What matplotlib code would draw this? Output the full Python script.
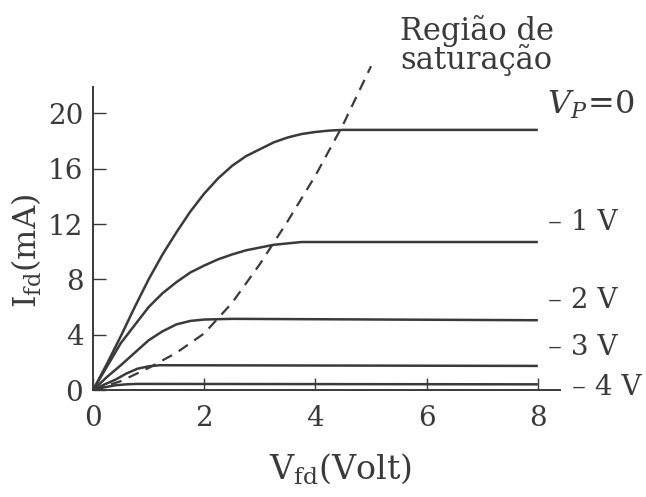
import matplotlib
matplotlib.use('Agg')
import matplotlib.pyplot as plt

# JFET output characteristics: drain current vs drain voltage per gate voltage
INK = '#3a3a3a'

vp0_v = [0, 0.25, 0.5, 0.75, 1.0, 1.25, 1.5, 1.75, 2.0, 2.25, 2.5, 2.75,
         3.0, 3.25, 3.5, 3.75, 4.0, 4.25, 4.5, 8.0]
vp0_i = [0, 1.9, 3.9, 6.0, 8.0, 9.8, 11.4, 12.9, 14.2, 15.3, 16.2, 16.9,
         17.4, 17.9, 18.25, 18.5, 18.65, 18.75, 18.8, 18.8]

vm1_v = [0, 0.25, 0.5, 0.75, 1.0, 1.25, 1.5, 1.75, 2.0, 2.25, 2.5, 2.75,
         3.0, 3.25, 3.5, 3.75, 4.0, 8.0]
vm1_i = [0, 1.7, 3.4, 4.7, 6.0, 7.0, 7.8, 8.5, 9.0, 9.45, 9.8, 10.1,
         10.3, 10.5, 10.6, 10.7, 10.7, 10.7]

vm2_v = [0, 0.25, 0.5, 0.75, 1.0, 1.25, 1.5, 1.75, 2.0, 2.5, 8.0]
vm2_i = [0, 0.95, 1.8, 2.7, 3.6, 4.25, 4.75, 5.0, 5.1, 5.15, 5.05]

vm3_v = [0, 0.2, 0.4, 0.6, 0.8, 1.0, 1.2, 8.0]
vm3_i = [0, 0.4, 0.75, 1.2, 1.55, 1.72, 1.8, 1.75]

vm4_v = [0, 0.2, 0.4, 0.6, 0.8, 8.0]
vm4_i = [0, 0.2, 0.35, 0.42, 0.45, 0.42]

# boundary of the saturation region
sat_v = [0, 0.5, 1.0, 1.5, 2.0, 2.5, 3.0, 3.5, 4.0, 4.5, 5.0]
sat_i = [0, 0.65, 1.6, 2.7, 4.1, 6.3, 9.1, 12.2, 15.5, 19.2, 23.4]

curve_labels = [r'$V_P\!=\!0$', '– 1 V', '– 2 V', '– 3 V', '– 4 V']
label_pos = [(8.17, 20.6), (8.18, 12.1), (8.18, 6.5), (8.18, 3.1), (8.62, 0.2)]
label_size = [23, 20, 20, 20, 20]

x_ticks = [0, 2, 4, 6, 8]
y_ticks = [0, 4, 8, 12, 16, 20]

plt.rcParams['font.family'] = 'DejaVu Serif'
plt.rcParams['mathtext.fontset'] = 'dejavuserif'

fig = plt.figure(figsize=(6.46, 4.97), dpi=100)
ax = fig.add_axes([0.144, 0.215, 0.723, 0.610])

for v, i in [(vp0_v, vp0_i), (vm1_v, vm1_i), (vm2_v, vm2_i),
             (vm3_v, vm3_i), (vm4_v, vm4_i)]:
    ax.plot(v, i, color=INK, lw=1.8, solid_capstyle='butt',
            solid_joinstyle='round')
ax.plot(sat_v, sat_i, color=INK, lw=1.6, dashes=(5, 3.5), clip_on=False)

ax.set_xlim(0, 8.4)
ax.set_ylim(0, 21.9)
ax.set_xticks(x_ticks)
ax.set_yticks(y_ticks)
for side in ['top', 'right']:
    ax.spines[side].set_visible(False)
for side in ['left', 'bottom']:
    ax.spines[side].set_color(INK)
    ax.spines[side].set_linewidth(1.4)
ax.tick_params(direction='in', length=9, width=1.0, color=INK,
               labelsize=20, labelcolor=INK)
ax.tick_params(axis='x', pad=11)
ax.tick_params(axis='y', pad=7)

ax.set_xlabel(r'V$_{\rm fd}$(Volt)', fontsize=24, color=INK)
ax.xaxis.set_label_coords(0.53, -0.2)
ax.set_ylabel(r'I$_{\rm fd}$(mA)', fontsize=23, color=INK)
ax.yaxis.set_label_coords(-0.105, 0.46)

for text, (x, y), size in zip(curve_labels, label_pos, label_size):
    ax.text(x, y, text, fontsize=size, color=INK, va='center', ha='left',
            clip_on=False)

ax.text(6.9, 24.9, 'Região de\nsaturação', fontsize=22, color=INK,
        ha='center', va='center', linespacing=0.9, clip_on=False)

fig.savefig('out.png', dpi=100, facecolor='white')
